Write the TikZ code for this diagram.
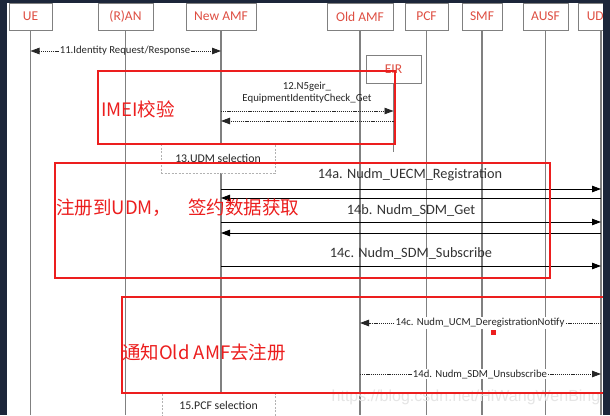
\documentclass[tikz,border=0pt]{standalone}
\usepackage{fontspec}
\setmainfont{Carlito}
\newfontfamily\cjk{Noto Sans CJK SC}
\newfontfamily\wmfont{Liberation Sans}
\usetikzlibrary{arrows.meta}
\definecolor{navy}{RGB}{28,38,58}
\definecolor{boxred}{RGB}{222,78,66}
\definecolor{hlred}{RGB}{236,30,30}
\definecolor{lifegray}{RGB}{128,128,128}
\begin{document}
\begin{tikzpicture}[x=1pt,y=-1pt,
  head/.style={draw=lifegray, line width=1pt, fill=white, text=boxred,
    font=\fontsize{13.5}{15}\selectfont, minimum height=27pt, inner sep=0pt},
  life/.style={draw=lifegray, line width=1.1pt},
  msg/.style={draw=black, line width=0.8pt},
  dmsg/.style={draw=black!85, line width=0.8pt, dash pattern=on 1.2pt off 0.9pt},
  tip/.style={-{Triangle[length=9pt,width=6.5pt]}},
  lbl/.style={font=\fontsize{10.7}{12.5}\selectfont, inner sep=1pt, text=black!85},
  biglbl/.style={font=\fontsize{14.3}{16}\selectfont, inner sep=1pt, text=black!80},
  selbox/.style={draw=black!30, dash pattern=on 2pt off 1.5pt, fill=white, line width=0.7pt,
    font=\fontsize{11.8}{13}\selectfont, text=black!85, inner sep=0pt},
  redbox/.style={draw=hlred, line width=1.7pt},
  redtxt/.style={text=hlred, font=\cjk\fontsize{18.5}{20}\selectfont, anchor=west, inner sep=0pt}]
\useasboundingbox (0,0) rectangle (610,415);
\fill[white] (0,0) rectangle (610,415);
\coordinate (bot) at (0,415);

% participants
\node[head, minimum width=43pt] (ue) at (30.5,16.5) {UE};
\node[head, minimum width=55pt] (ran) at (125.5,16.5) {(R)AN};
\node[head, minimum width=70pt] (newamf) at (221,16.5) {New AMF};
\node[head, minimum width=66pt] (oldamf) at (360,16.5) {Old AMF};
\node[head, minimum width=43pt] (pcf) at (426.5,16.5) {PCF};
\node[head, minimum width=40pt] (smf) at (482,16.5) {SMF};
\node[head, minimum width=45pt] (ausf) at (545.5,16.5) {AUSF};
\node[head, minimum width=46pt] (udm) at (601,16.5) {UDM};
\node[head, minimum width=55pt, minimum height=28pt] (eir) at (393.5,69) {EIR};

% lifelines
\foreach \p in {ue,ran,newamf,oldamf,pcf,smf,ausf,udm}
  \draw[life] (\p.south) -- (\p.south |- bot);
\coordinate (eirend) at (393.5,152);
\draw[life] (eir.south) -- (eirend);

% selection boxes
\node[selbox, minimum width=114pt, minimum height=30pt] (sel13) at (218,158) {13.UDM selection};
\node[selbox, minimum width=113pt, minimum height=32pt] (sel15) at (218.5,409) {};
\node[font=\fontsize{11.8}{13}\selectfont, text=black!85, inner sep=0pt] (t15) at (218.5,405) {15.PCF selection};

% message 11
\node[lbl] (l11) at (125,51) {11.Identity Request/Response};
\draw[dmsg,tip] (l11.west) -- (ue |- l11);
\draw[dmsg,tip] (l11.east) -- (newamf |- l11);

% message 12
\node[lbl, align=center, font=\fontsize{10.8}{12}\selectfont] (l12) at (307,93) {12.N5geir\_\\EquipmentIdentityCheck\_Get};
\coordinate (y12a) at (0,111);
\coordinate (y12b) at (0,121);
\draw[dmsg,tip] (newamf |- y12a) -- (eir |- y12a);
\draw[dmsg,tip] (eir |- y12b) -- (newamf |- y12b);

% messages 14a-14c
\node[biglbl] (l14a) at (410,175) {14a. Nudm\_UECM\_Registration};
\coordinate (y14a) at (0,189);
\coordinate (y14ar) at (0,198);
\draw[msg,tip] (newamf |- y14a) -- (udm |- y14a);
\draw[msg,tip] (udm |- y14ar) -- (newamf |- y14ar);

\node[biglbl] (l14b) at (411,210) {14b. Nudm\_SDM\_Get};
\coordinate (y14b) at (0,222);
\coordinate (y14br) at (0,233);
\draw[msg,tip] (newamf |- y14b) -- (udm |- y14b);
\draw[msg,tip] (udm |- y14br) -- (newamf |- y14br);

\node[biglbl] (l14c) at (411,253) {14c. Nudm\_SDM\_Subscribe};
\coordinate (y14c) at (0,266);
\draw[msg,tip] (newamf |- y14c) -- (udm |- y14c);

% deregistration / unsubscribe
\node[lbl, fill=white] (l14cd) at (480,323) {14c. Nudm\_UCM\_DeregistrationNotify};
\draw[dmsg] (udm |- l14cd) -- (l14cd.east);
\draw[dmsg,tip] (l14cd.west) -- (oldamf |- l14cd);
\fill[hlred] (490.5,329.5) rectangle (495.5,334.5);

\node[lbl, fill=white] (l14d) at (480,374) {14d. Nudm\_SDM\_Unsubscribe};
\draw[dmsg] (oldamf |- l14d) -- (l14d.west);
\draw[dmsg,tip] (l14d.east) -- (udm |- l14d);

% watermark
\node[font=\wmfont\fontsize{16}{18}\selectfont, text=black!10, inner sep=0pt] (wm) at (466,397) {https://blog.csdn.net/HiWangWenBing};

% red highlight boxes
\draw[redbox] (98,71) rectangle (395,144);
\draw[redbox] (55,163) rectangle (550,278);
\draw[redbox] (604,297) -- (122,297) -- (122,393) -- (604,393);

\node[redtxt] (t1) at (101,109) {IMEI校验};
\node[redtxt] (t2) at (56,208) {注册到UDM，\hspace{17pt}签约数据获取};
\node[redtxt] (t3) at (122,352) {通知Old AMF去注册};

% dark frame
\fill[navy] (0,0) rectangle (7,415);
\fill[navy] (0,0) rectangle (610,2.5);
\fill[navy] (603,0) rectangle (610,415);
\end{tikzpicture}
\end{document}
